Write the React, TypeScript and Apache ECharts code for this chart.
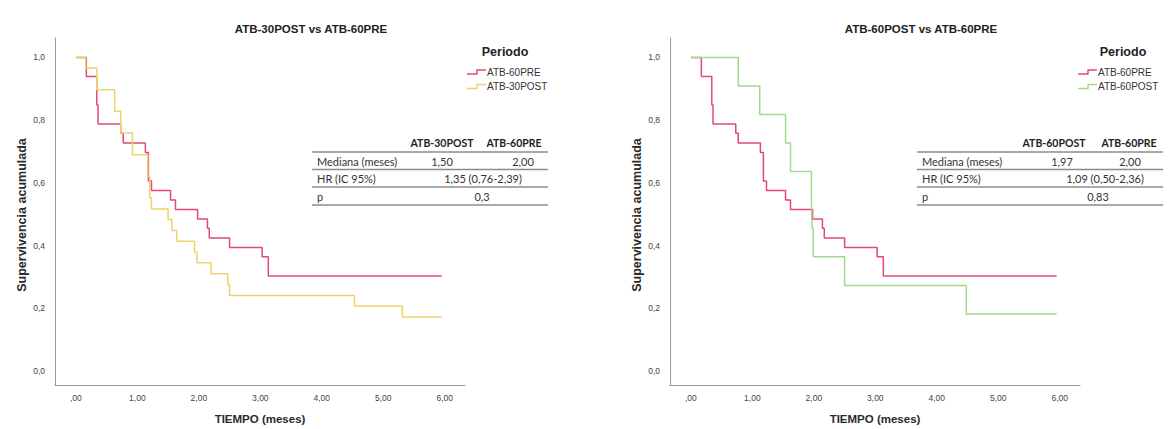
import React, { useEffect, useRef } from 'react';
import * as echarts from 'echarts';

// ---------- data ----------
const xTicks = [0, 1, 2, 3, 4, 5, 6];
const yTicks = [0, 0.2, 0.4, 0.6, 0.8, 1.0];

// ATB-60PRE (same group in both panels)
const pre60: number[][] = [
  [0, 1], [0.17, 0.939], [0.34, 0.848], [0.36, 0.788], [0.73, 0.758], [0.77, 0.727],
  [1.13, 0.697], [1.18, 0.606], [1.23, 0.576], [1.54, 0.545], [1.62, 0.515],
  [1.98, 0.485], [2.14, 0.455], [2.17, 0.424], [2.5, 0.394], [3.03, 0.364],
  [3.13, 0.303], [5.95, 0.303],
];
// ATB-30POST
const post30: number[][] = [
  [0, 1], [0.16, 0.966], [0.34, 0.897], [0.63, 0.828], [0.73, 0.759], [0.92, 0.69],
  [1.17, 0.621], [1.2, 0.552], [1.23, 0.517], [1.5, 0.483], [1.56, 0.448],
  [1.64, 0.414], [1.93, 0.379], [1.97, 0.345], [2.2, 0.31], [2.47, 0.276],
  [2.5, 0.241], [4.53, 0.207], [5.31, 0.172], [5.95, 0.172],
];
// ATB-60POST
const post60: number[][] = [
  [0, 1], [0.77, 0.909], [1.12, 0.818], [1.54, 0.727], [1.62, 0.636], [1.96, 0.545],
  [1.97, 0.455], [1.99, 0.364], [2.5, 0.273], [4.48, 0.182], [5.95, 0.182],
];

const titles = ['ATB-30POST vs ATB-60PRE', 'ATB-60POST vs ATB-60PRE'];
const legendNames = [['ATB-60PRE', 'ATB-30POST'], ['ATB-60PRE', 'ATB-60POST']];
const rowLabels = ['Mediana (meses)', 'HR (IC 95%)', 'p'];
const leftHeaders = ['ATB-30POST', 'ATB-60PRE'];
const leftMedians = ['1,50', '2,00'];
const leftHR = '1,35 (0,76-2,39)';
const leftP = '0,3';
const rightHeaders = ['ATB-60POST', 'ATB-60PRE'];
const rightMedians = ['1,97', '2,00'];
const rightHR = '1,09 (0,50-2,36)';
const rightP = '0,83';

// ---------- styles ----------
const RED = '#e24a74';
const YELLOW = '#ecd36a';
const GREEN = '#a3d98c';
const SANS = '"Liberation Sans", Arial, sans-serif';
const TABLE_FONT = 'Lato, "Open Sans", sans-serif';

const xFmt = (v: number) => {
  const r = Math.round(v);
  if (Math.abs(v - r) > 1e-6 || !xTicks.includes(r)) return '';
  return r === 0 ? ',00' : r.toFixed(2).replace('.', ',');
};
const yFmt = (v: number) => {
  const hit = yTicks.find((t) => Math.abs(t - v) < 1e-6);
  if (hit === undefined) return '';
  return hit.toFixed(1).replace('.', ',');
};

function tableGraphics(
  x0: number, width: number, headers: string[], headerCenters: number[],
  medians: string[], medianCenters: number[], hr: string, p: string,
  hrCenter: number, pCenter: number,
) {
  const els: any[] = [];
  const lineYs = [152, 169.5, 187, 205];
  const rowYs = [161, 178.5, 196];
  const headerY = 143;
  headers.forEach((h, i) => {
    els.push({
      type: 'text', x: x0 + headerCenters[i], y: headerY,
      style: { text: h, textAlign: 'center', textVerticalAlign: 'middle', font: `bold 10.5px ${TABLE_FONT}`, fill: '#222' },
    });
  });
  lineYs.forEach((ly) => {
    els.push({ type: 'line', shape: { x1: x0, y1: ly, x2: x0 + width, y2: ly }, style: { stroke: '#8c8c8c', lineWidth: 1.6 } });
  });
  rowLabels.forEach((lab, i) => {
    els.push({
      type: 'text', x: x0 + 5, y: rowYs[i],
      style: { text: lab, textAlign: 'left', textVerticalAlign: 'middle', font: `11px ${TABLE_FONT}`, fill: '#333' },
    });
  });
  medians.forEach((m, i) => {
    els.push({
      type: 'text', x: x0 + medianCenters[i], y: rowYs[0],
      style: { text: m, textAlign: 'center', textVerticalAlign: 'middle', font: `11px ${TABLE_FONT}`, fill: '#333' },
    });
  });
  els.push({
    type: 'text', x: x0 + hrCenter, y: rowYs[1],
    style: { text: hr, textAlign: 'center', textVerticalAlign: 'middle', font: `11px ${TABLE_FONT}`, fill: '#333' },
  });
  els.push({
    type: 'text', x: x0 + pCenter, y: rowYs[2],
    style: { text: p, textAlign: 'center', textVerticalAlign: 'middle', font: `11px ${TABLE_FONT}`, fill: '#333' },
  });
  return els;
}

function legendGraphics(cx: number, iconX: number, names: string[], colors: string[]) {
  const els: any[] = [];
  els.push({
    type: 'text', x: cx, y: 52,
    style: { text: 'Periodo', textAlign: 'center', textVerticalAlign: 'middle', font: `bold 12.5px ${SANS}`, fill: '#222' },
  });
  names.forEach((n, i) => {
    const y = 72 + i * 14.5;
    els.push({
      type: 'polyline',
      shape: { points: [[iconX, y + 2], [iconX + 10, y + 2], [iconX + 10, y - 2], [iconX + 19, y - 2]] },
      style: { stroke: colors[i], lineWidth: 1.4, fill: 'none' },
    });
    els.push({
      type: 'text', x: iconX + 20, y,
      style: { text: n, textAlign: 'left', textVerticalAlign: 'middle', font: `10px ${SANS}`, fill: '#333' },
    });
  });
  return els;
}

export default function App() {
  const ref = useRef<HTMLDivElement>(null);
  useEffect(() => {
    document.body.style.margin = '0';
    if (!ref.current) return;
    const chart = echarts.init(ref.current, undefined, { renderer: 'svg' });

    const grids = [
      { left: 55, top: 38, width: 410, height: 347 },
      { left: 670, top: 38, width: 410, height: 347 },
    ];
    const xAxisBase = {
      type: 'value', min: -0.34, max: 6.33,
      axisLine: { show: true, onZero: false, lineStyle: { color: '#9a9a9a', width: 1 } },
      axisTick: { show: false },
      splitLine: { show: false },
      axisLabel: { formatter: xFmt, interval: 0, margin: 8, fontSize: 8.5, color: '#444', fontFamily: SANS },
    };
    const yAxisBase = {
      type: 'value', min: -0.0447, max: 1.062,
      axisLine: { show: true, onZero: false, lineStyle: { color: '#9a9a9a', width: 1 } },
      axisTick: { show: false },
      splitLine: { show: false },
      axisLabel: { formatter: yFmt, interval: 0, margin: 10, fontSize: 8.5, color: '#444', fontFamily: SANS },
    };
    const lineSeries = (name: string, data: number[][], color: string, idx: number) => ({
      type: 'line', name, data, step: 'end', xAxisIndex: idx, yAxisIndex: idx,
      showSymbol: false, symbol: 'none',
      lineStyle: { color, width: 1.5 }, itemStyle: { color },
    });

    const graphic: any[] = [];
    [311, 921].forEach((cx, i) => {
      graphic.push({
        type: 'text', x: cx, y: 29,
        style: { text: titles[i], textAlign: 'center', textVerticalAlign: 'middle', font: `bold 11.5px ${SANS}`, fill: '#222' },
      });
    });
    [22, 637].forEach((x) => {
      graphic.push({
        type: 'text', x, y: 215, rotation: Math.PI / 2,
        style: { text: 'Supervivencia acumulada', textAlign: 'center', textVerticalAlign: 'middle', font: `bold 12.5px ${SANS}`, fill: '#2a2a2a' },
      });
    });
    [260, 875].forEach((x) => {
      graphic.push({
        type: 'text', x, y: 419,
        style: { text: 'TIEMPO (meses)', textAlign: 'center', textVerticalAlign: 'middle', font: `bold 11.5px ${SANS}`, fill: '#2a2a2a' },
      });
    });
    graphic.push(...legendGraphics(505, 467, legendNames[0], [RED, YELLOW]));
    graphic.push(...legendGraphics(1123, 1078, legendNames[1], [RED, GREEN]));
    graphic.push(...tableGraphics(312, 236, leftHeaders, [130, 202], leftMedians, [130, 211], leftHR, leftP, 171, 170));
    graphic.push(...tableGraphics(917, 246, rightHeaders, [137, 212], rightMedians, [145, 213], rightHR, rightP, 188, 181));

    chart.setOption({
      animation: false,
      backgroundColor: '#ffffff',
      grid: grids,
      xAxis: [{ ...xAxisBase, gridIndex: 0 }, { ...xAxisBase, gridIndex: 1 }],
      yAxis: [{ ...yAxisBase, gridIndex: 0 }, { ...yAxisBase, gridIndex: 1 }],
      series: [
        lineSeries('ATB-60PRE', pre60, RED, 0),
        lineSeries('ATB-30POST', post30, YELLOW, 0),
        lineSeries('ATB-60PRE', pre60, RED, 1),
        lineSeries('ATB-60POST', post60, GREEN, 1),
      ],
      graphic,
    });
    return () => chart.dispose();
  }, []);
  return <div ref={ref} style={{ width: 1170, height: 429 }} />;
}
